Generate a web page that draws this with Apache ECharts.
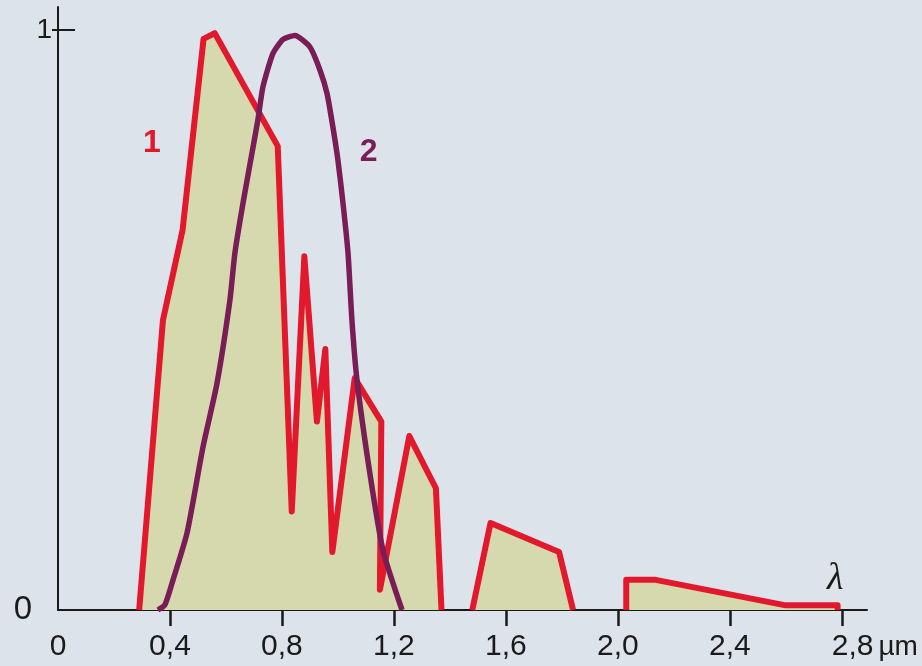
<!DOCTYPE html>
<html>
<head>
<meta charset="utf-8">
<script src="https://cdn.jsdelivr.net/npm/echarts@6/dist/echarts.min.js"></script>
<style>
html,body{margin:0;padding:0;background:#dde3eb;}
#chart{width:922px;height:666px;}
</style>
</head>
<body>
<div id="chart"></div>
<script>
// Curve 1: spectral irradiance (relative), broken where it drops out
const lambda1 = [0.29, 0.375, 0.445, 0.52, 0.56, 0.785, 0.835, 0.88, 0.925, 0.955, 0.98, 1.06, 1.155, 1.15, 1.255, 1.35, 1.37, 1.42, 1.48, 1.545, 1.79, 1.84, 1.93, 2.03, 2.03, 2.135, 2.6, 2.785, 2.785];
const value1  = [0, 0.50, 0.655, 0.985, 0.995, 0.80, 0.17, 0.61, 0.325, 0.45, 0.10, 0.40, 0.325, 0.035, 0.30, 0.21, 0, null, 0, 0.15, 0.10, 0, null, 0, 0.052, 0.052, 0.008, 0.008, 0];
// Curve 2: eye sensitivity (relative)
const lambda2 = [0.357, 0.382, 0.411, 0.461, 0.518, 0.568, 0.614, 0.632, 0.661, 0.693, 0.714, 0.732, 0.768, 0.804, 0.846, 0.90, 0.936, 0.961, 0.982, 1.0, 1.018, 1.036, 1.05, 1.068, 1.114, 1.161, 1.229];
const value2  = [0, 0.009, 0.052, 0.133, 0.281, 0.391, 0.534, 0.616, 0.702, 0.788, 0.845, 0.902, 0.96, 0.984, 0.991, 0.971, 0.931, 0.891, 0.833, 0.776, 0.702, 0.616, 0.50, 0.397, 0.236, 0.103, 0];
// Axis ticks
const xTicks = [0, 0.4, 0.8, 1.2, 1.6, 2.0, 2.4, 2.8];
const xTickMarks = [0.4, 0.8, 1.2, 1.6, 2.0, 2.4, 2.8];
const yTicks = [0, 1];
// Curve labels
const curveLabels = ['1', '2'];
const curveLabelPos = [[0.335, 0.805], [1.11, 0.79]];

const red = '#e2182c';
const purple = '#7a1c55';
const fill = '#d6d9ae';
const ink = '#1a1a1a';

const data1 = lambda1.map((x, i) => [x, value1[i] === null ? '-' : value1[i]]);
const data2 = lambda2.map((x, i) => [x, value2[i]]);

const chart = echarts.init(document.getElementById('chart'));
chart.setOption({
  backgroundColor: '#dde3eb',
  animation: false,
  grid: {left: 58, right: 55, top: 7, bottom: 56},
  xAxis: {
    type: 'value', min: 0, max: 2.89,
    splitLine: {show: false},
    axisLine: {show: true, lineStyle: {color: ink, width: 2}},
    axisTick: {show: true, customValues: xTickMarks, length: 16, lineStyle: {color: ink, width: 2.5}},
    axisLabel: {
      customValues: xTicks, margin: 22,
      fontFamily: 'Liberation Sans', fontSize: 30, color: ink,
      formatter: v => v === 0 ? '0' : (v === 2.8 ? '{p|}2,8{u|µm}' : v.toFixed(1).replace('.', ',')),
      rich: {p: {width: 66}, u: {fontFamily: 'Liberation Sans', fontSize: 28, color: ink, padding: [0, 0, 0, 5]}}
    },
    name: 'λ', nameLocation: 'end', nameGap: -40,
    nameTextStyle: {fontFamily: 'Liberation Serif', fontStyle: 'italic', fontSize: 38, color: ink, verticalAlign: 'bottom', padding: [0, 0, 12, 0]}
  },
  yAxis: [{
    type: 'value', min: 0, max: 1.04,
    splitLine: {show: false},
    axisLine: {show: true, lineStyle: {color: ink, width: 2}},
    axisTick: {show: true, inside: true, customValues: [1], length: 17, lineStyle: {color: ink, width: 2}},
    axisLabel: {
      customValues: yTicks, margin: 6,
      fontFamily: 'Liberation Sans', fontSize: 28, color: ink,
      formatter: v => v === 0 ? '{z|0}' : String(v),
      rich: {z: {fontFamily: 'Liberation Sans', fontSize: 33, color: ink, padding: [0, 20, 0, 0]}}
    }
  }, {
    type: 'value', min: 0, max: 1.04, position: 'left',
    splitLine: {show: false},
    axisLine: {show: false},
    axisTick: {show: true, customValues: [1], length: 6, lineStyle: {color: ink, width: 2}},
    axisLabel: {show: false}
  }],
  series: [{
    type: 'line', data: data1, connectNulls: false,
    symbol: 'none',
    lineStyle: {color: red, width: 6, join: 'round'},
    areaStyle: {color: fill, opacity: 1},
    z: 2,
    markPoint: {
      symbol: 'circle', symbolSize: 1, itemStyle: {color: 'rgba(0,0,0,0)'},
      label: {show: true, position: 'inside', formatter: curveLabels[0], color: red, fontFamily: 'Liberation Sans', fontWeight: 'bold', fontSize: 32},
      data: [{coord: curveLabelPos[0]}]
    }
  }, {
    type: 'line', data: data2, smooth: 0.2,
    symbol: 'none',
    lineStyle: {color: purple, width: 5.5, join: 'round'},
    z: 3,
    markPoint: {
      symbol: 'circle', symbolSize: 1, itemStyle: {color: 'rgba(0,0,0,0)'},
      label: {show: true, position: 'inside', formatter: curveLabels[1], color: purple, fontFamily: 'Liberation Sans', fontWeight: 'bold', fontSize: 32},
      data: [{coord: curveLabelPos[1]}]
    }
  }]
});
</script>
</body>
</html>
